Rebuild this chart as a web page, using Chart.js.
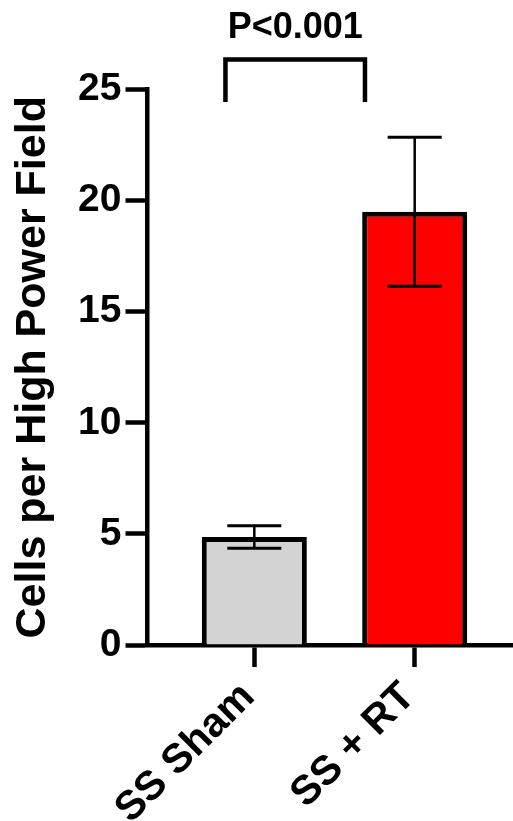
<!DOCTYPE html>
<html>
<head>
<meta charset="utf-8">
<script src="https://cdn.jsdelivr.net/npm/chart.js@4/dist/chart.umd.min.js"></script>
<style>
  html, body { margin: 0; padding: 0; background: #fff; overflow: hidden; }
  #wrap { width: 513px; height: 821px; position: relative; }
  #cellsChart { display: block; }
</style>
</head>
<body>
<div id="wrap"><canvas id="cellsChart"></canvas></div>
<script>
// groups and values
const categories = ['SS Sham', 'SS + RT'];
const means = [4.86, 19.5];
const sem = [0.51, 3.35];
const barColors = ['#d3d3d3', '#ff0000'];
const yTicks = [0, 5, 10, 15, 20, 25];

// significance bracket (in axis units)
const bracketFrom = -0.18;
const bracketTo = 0.69;
const bracketTop = 26.35;
const bracketBottom = 24.44;
const pLabel = 'P<0.001';

const FONT = "'Liberation Sans', Arial, Helvetica, sans-serif";

// error bars drawn on top of the bars
const errorBars = {
  id: 'errorBars',
  afterDatasetsDraw(chart) {
    const ctx = chart.ctx;
    const y = chart.scales.y;
    const meta = chart.getDatasetMeta(0);
    ctx.save();
    ctx.strokeStyle = '#000';
    meta.data.forEach((bar, i) => {
      const top = y.getPixelForValue(means[i] + sem[i]);
      const bot = y.getPixelForValue(means[i] - sem[i]);
      const half = 27;
      ctx.lineWidth = 2.5;
      ctx.beginPath();
      ctx.moveTo(bar.x, top);
      ctx.lineTo(bar.x, bot);
      ctx.stroke();
      ctx.lineWidth = 3;
      ctx.beginPath();
      ctx.moveTo(bar.x - half, top);
      ctx.lineTo(bar.x + half, top);
      ctx.moveTo(bar.x - half, bot);
      ctx.lineTo(bar.x + half, bot);
      ctx.stroke();
    });
    ctx.restore();
  }
};

// bracket and p value above the bars
const sigBracket = {
  id: 'sigBracket',
  afterDraw(chart) {
    const ctx = chart.ctx;
    const x = chart.scales.x, y = chart.scales.y;
    const x1 = x.getPixelForValue(bracketFrom);
    const x2 = x.getPixelForValue(bracketTo);
    const yt = y.getPixelForValue(bracketTop);
    const yb = y.getPixelForValue(bracketBottom);
    ctx.save();
    ctx.strokeStyle = '#000';
    ctx.lineWidth = 4.5;
    ctx.lineJoin = 'miter';
    ctx.beginPath();
    ctx.moveTo(x1, yb);
    ctx.lineTo(x1, yt);
    ctx.lineTo(x2, yt);
    ctx.lineTo(x2, yb);
    ctx.stroke();
    ctx.fillStyle = '#000';
    ctx.font = 'bold 36px ' + FONT;
    ctx.textAlign = 'center';
    ctx.textBaseline = 'alphabetic';
    ctx.fillText(pLabel, (x1 + x2) / 2, yt - 21.5);
    ctx.restore();
  }
};

const ctx = document.getElementById('cellsChart').getContext('2d');
new Chart(ctx, {
  type: 'bar',
  data: {
    datasets: [{
      data: means.map((m, i) => ({ x: i, y: m })),
      backgroundColor: barColors,
      borderColor: '#000',
      borderWidth: 5,
      borderSkipped: 'start',
      barPercentage: 0.655,
      categoryPercentage: 1
    }]
  },
  options: {
    responsive: true,
    maintainAspectRatio: false,
    animation: false,
    layout: { padding: { top: 89.5, right: 0, bottom: 0, left: 0 } },
    plugins: {
      legend: { display: false },
      tooltip: { enabled: false }
    },
    scales: {
      x: {
        type: 'linear',
        min: -0.666,
        max: 1.613,
        offset: false,
        z: 1,
        afterBuildTicks: s => { s.ticks = categories.map((c, i) => ({ value: i })); },
        afterFit: s => { s.height = 176; s.paddingLeft = 0; s.paddingRight = 0; },
        border: { display: true, color: '#000', width: 4.5 },
        grid: { display: true, offset: false, drawOnChartArea: false, drawTicks: true, tickLength: 22, tickWidth: 4.5, tickColor: '#000' },
        ticks: {
          autoSkip: false,
          minRotation: 45,
          maxRotation: 45,
          padding: 6,
          labelOffset: -6,
          color: '#000',
          font: { family: FONT, size: 41, weight: 'bold' },
          callback: v => categories[v]
        }
      },
      y: {
        min: 0,
        max: 25,
        z: 1,
        afterBuildTicks: s => { s.ticks = yTicks.map(v => ({ value: v })); },
        afterFit: s => { s.width = 147.5; },
        border: { display: true, color: '#000', width: 4.5 },
        grid: { display: true, drawOnChartArea: false, drawTicks: true, tickLength: 22, tickWidth: 4.5, tickColor: '#000' },
        ticks: {
          padding: 4,
          color: '#000',
          font: { family: FONT, size: 39, weight: 'bold' }
        },
        title: {
          display: true,
          text: 'Cells per High Power Field',
          color: '#000',
          padding: { top: 7, bottom: 0 },
          font: { family: FONT, size: 43, weight: 'bold' }
        }
      }
    }
  },
  plugins: [errorBars, sigBracket]
});
</script>
</body>
</html>
